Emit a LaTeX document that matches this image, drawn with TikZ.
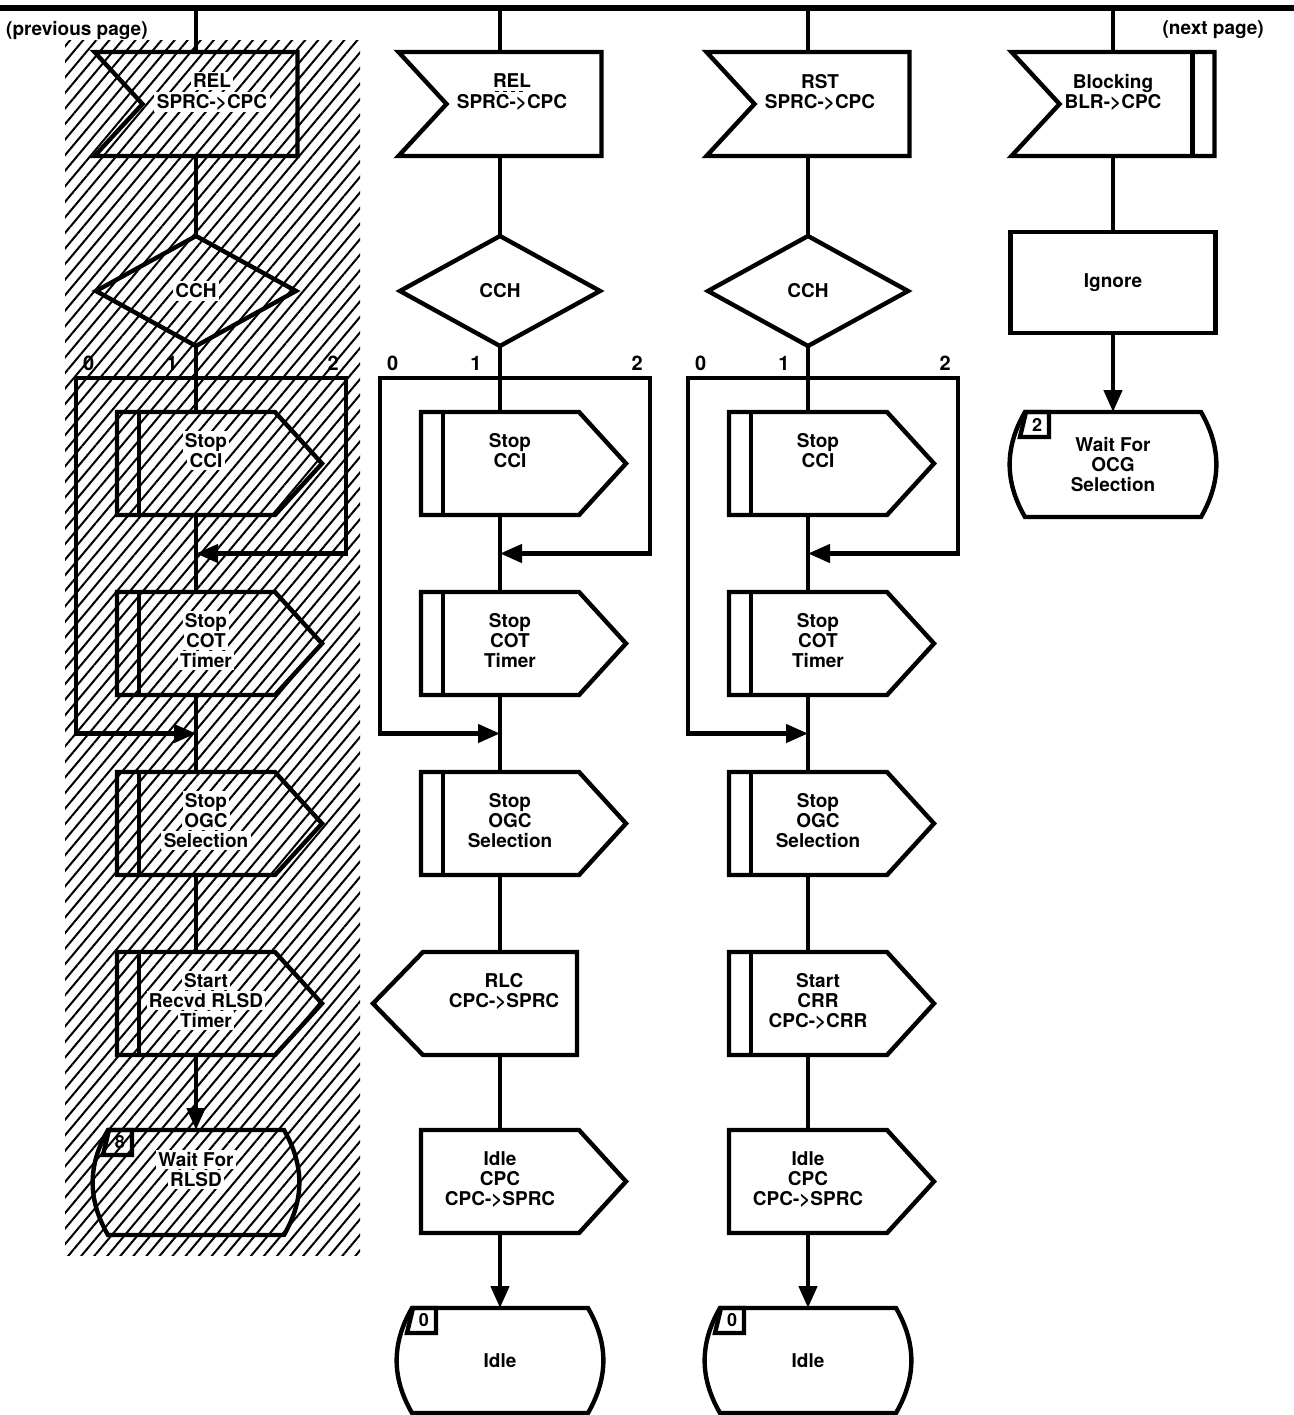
\documentclass[tikz,border=0pt]{standalone}
\usepackage{fontspec}
\setmainfont{TeX Gyre Heros}
\usepackage{tikz}
\usetikzlibrary{arrows.meta}
\pgfdeclarelayer{bg}
\pgfsetlayers{bg,main}
\usetikzlibrary{calc,shapes.geometric,positioning,patterns.meta}
% dashed underline for a signal name
\newcommand{\dashunder}[1]{\setbox0=\hbox{#1}\copy0\llap{\smash{\raisebox{-2.2pt}{\hbox to\wd0{\leaders\hbox to 4pt{\hss\vrule width 2.2pt height 0.8pt\hss}\hfill}}}}}
% text block shifted right by #1
\newcommand{\tx}[2]{\hspace*{#1}\begin{tabular}{@{}c@{}}#2\end{tabular}\hspace*{-#1}}
% white knock-out behind a word on the hatched page
\newcommand{\hl}[1]{{\fboxsep=1.2pt\rlap{\kern-1.2pt\smash{\colorbox{white}{\phantom{#1}}}}}#1}

\begin{document}
\begin{tikzpicture}
    [x=0.5pt, y=-0.5pt, line width=2.2pt,
    font=\bfseries\fontsize{9.5}{10}\selectfont,
    arr/.style={-{Triangle[length=11pt,width=9pt]}},
    sym/.style={rectangle, align=center, inner sep=1pt, outer sep=0pt},
    inbox/.style={sym, minimum width=101.5pt, minimum height=52pt,
      append after command={\pgfextra{\draw (\tikzlastnode.north west) -- (\tikzlastnode.north east) -- (\tikzlastnode.south east) -- (\tikzlastnode.south west) -- ([xshift=24pt]\tikzlastnode.west) -- cycle;}}},
    inprio/.style={inbox,
      append after command={\pgfextra{\draw ([xshift=-11pt]\tikzlastnode.north east) -- ([xshift=-11pt]\tikzlastnode.south east);}}},
    outbox/.style={sym, minimum width=79pt, minimum height=51.5pt,
      append after command={\pgfextra{\draw (\tikzlastnode.north west) -- (\tikzlastnode.north east) -- ([xshift=23.5pt]\tikzlastnode.east) -- (\tikzlastnode.south east) -- (\tikzlastnode.south west) -- cycle;}}},
    outleft/.style={sym, minimum width=77pt, minimum height=51.5pt,
      append after command={\pgfextra{\draw (\tikzlastnode.north east) -- (\tikzlastnode.north west) -- ([xshift=-25pt]\tikzlastnode.west) -- (\tikzlastnode.south west) -- (\tikzlastnode.south east) -- cycle;}}},
    taskbox/.style={outbox,
      append after command={\pgfextra{\draw ([xshift=11pt]\tikzlastnode.north west) -- ([xshift=11pt]\tikzlastnode.south west);}}},
    statebox/.style={sym, minimum width=88pt, minimum height=52.5pt,
      append after command={\pgfextra{\draw (\tikzlastnode.north east) to[bend left=30] (\tikzlastnode.south east) -- (\tikzlastnode.south west) to[bend left=30] (\tikzlastnode.north west) -- cycle;}}},
    tabbox/.style={sym, minimum width=12pt, minimum height=12.5pt, anchor=north west, line width=1.8pt,
      font=\bfseries\fontsize{9}{9}\selectfont,
      append after command={\pgfextra{\draw ([xshift=0.5pt]\tikzlastnode.north west) -- (\tikzlastnode.north east) -- (\tikzlastnode.south east) -- ([xshift=-2.5pt]\tikzlastnode.south west) -- cycle;}}},
    decision/.style={diamond, draw, minimum width=100pt, minimum height=55pt, inner sep=0pt, outer sep=0pt},
    process/.style={sym, draw, minimum width=102.5pt, minimum height=50.5pt},
    numlbl/.style={inner sep=2.5pt, font=\bfseries\fontsize{10}{10}\selectfont},
    pagelbl/.style={inner sep=0pt}]
    \useasboundingbox (0,0) rectangle (1294,1415);

    % page connector line
    \coordinate (tl) at (0,8);
    \coordinate (tr) at (1294,8);
    \draw[line width=3pt] (tl) -- (tr);
    \node (prev) [pagelbl, anchor=west] at (4,30) {(previous page)};
    \node (next) [pagelbl, anchor=east] at (1266,30) {(next page)};

    % column 1 (hatched)
    \node (in1) [inbox] at (196,104) {\tx{8pt}{\hl{REL}\\\hl{SPRC->CPC}\\~}};
    \node (cch1) [decision, below=40pt of in1] {\hl{CCH}};
    \node (cci1) [taskbox, below=33pt of cch1] {\tx{5pt}{\hl{Stop}\\\hl{CCI}\\~}};
    \node (cot1) [taskbox, below=38.5pt of cci1] {\tx{5pt}{\hl{Stop}\\\hl{COT}\\\hl{Timer}}};
    \node (ogc1) [taskbox, below=38.5pt of cot1] {\tx{5pt}{\hl{Stop}\\\hl{OGC}\\\hl{Selection}}};
    \node (rls1) [taskbox, below=38.5pt of ogc1] {\tx{5pt}{\hl{Start}\\\hl{Recvd RLSD}\\\hl{Timer}}};
    \node (st1) [statebox, below=37.5pt of rls1] {\tx{0pt}{\hl{Wait For}\\\hl{RLSD}\\~}};
    \node (tab1) [tabbox] at (st1.north west) {8};

    \coordinate (cch1-1) at ([yshift=-16pt]cch1.south);
    \coordinate (cch1-0) at ([xshift=-60pt]cch1-1);
    \coordinate (cch1-2) at ([xshift=75pt]cch1-1);
    \node (n10) [numlbl, anchor=south west] at (cch1-0) {0};
    \node (n11) [numlbl, anchor=south] at ([xshift=-12pt]cch1-1) {1};
    \node (n12) [numlbl, anchor=south east] at (cch1-2) {2};

    \draw (in1 |- tl) -- (in1);
    \draw (in1) -- (cch1);
    \draw (cch1) -- (cci1);
    \draw[arr] (cch1-1) -- (cch1-2) |- ($(cci1.south)!.5!(cot1.north)$);
    \draw[arr] (cch1-1) -- (cch1-0) |- ($(cot1.south)!.5!(ogc1.north)$);
    \draw (cci1) -- (cot1);
    \draw (cot1) -- (ogc1);
    \draw (ogc1) -- (rls1);
    \draw[arr] (rls1) -- (st1);

    % column 2
    \node (in2) [inbox] at (500,104) {\tx{6pt}{\dashunder{REL}\\SPRC->CPC\\~}};
    \node (cch2) [decision, below=40pt of in2] {CCH};
    \node (cci2) [taskbox, below=33pt of cch2] {\tx{5pt}{Stop\\CCI\\~}};
    \node (cot2) [taskbox, below=38.5pt of cci2] {\tx{5pt}{Stop\\COT\\Timer}};
    \node (ogc2) [taskbox, below=38.5pt of cot2] {\tx{5pt}{Stop\\OGC\\Selection}};
    \node (rlc2) [outleft, below=38.5pt of ogc2] {\tx{2pt}{RLC\\CPC->SPRC\\~}};
    \node (idl2) [outbox, below=37.5pt of rlc2] {\tx{0pt}{Idle\\CPC\\CPC->SPRC}};
    \node (st2) [statebox, below=37.5pt of idl2] {Idle};
    \node (tab2) [tabbox] at (st2.north west) {0};

    \coordinate (cch2-1) at ([yshift=-16pt]cch2.south);
    \coordinate (cch2-0) at ([xshift=-60pt]cch2-1);
    \coordinate (cch2-2) at ([xshift=75pt]cch2-1);
    \node (n20) [numlbl, anchor=south west] at (cch2-0) {0};
    \node (n21) [numlbl, anchor=south] at ([xshift=-12pt]cch2-1) {1};
    \node (n22) [numlbl, anchor=south east] at (cch2-2) {2};

    \draw (in2 |- tl) -- (in2);
    \draw (in2) -- (cch2);
    \draw (cch2) -- (cci2);
    \draw[arr] (cch2-1) -- (cch2-2) |- ($(cci2.south)!.5!(cot2.north)$);
    \draw[arr] (cch2-1) -- (cch2-0) |- ($(cot2.south)!.5!(ogc2.north)$);
    \draw (cci2) -- (cot2);
    \draw (cot2) -- (ogc2);
    \draw (ogc2) -- (rlc2);
    \draw (rlc2) -- (idl2);
    \draw[arr] (idl2) -- (st2);

    % column 3
    \node (in3) [inbox] at (808,104) {\tx{6pt}{RST\\SPRC->CPC\\~}};
    \node (cch3) [decision, below=40pt of in3] {CCH};
    \node (cci3) [taskbox, below=33pt of cch3] {\tx{5pt}{Stop\\CCI\\~}};
    \node (cot3) [taskbox, below=38.5pt of cci3] {\tx{5pt}{Stop\\COT\\Timer}};
    \node (ogc3) [taskbox, below=38.5pt of cot3] {\tx{5pt}{Stop\\OGC\\Selection}};
    \node (crr3) [taskbox, below=38.5pt of ogc3] {\tx{5pt}{Start\\CRR\\CPC->CRR}};
    \node (idl3) [outbox, below=37.5pt of crr3] {\tx{0pt}{Idle\\CPC\\CPC->SPRC}};
    \node (st3) [statebox, below=37.5pt of idl3] {Idle};
    \node (tab3) [tabbox] at (st3.north west) {0};

    \coordinate (cch3-1) at ([yshift=-16pt]cch3.south);
    \coordinate (cch3-0) at ([xshift=-60pt]cch3-1);
    \coordinate (cch3-2) at ([xshift=75pt]cch3-1);
    \node (n30) [numlbl, anchor=south west] at (cch3-0) {0};
    \node (n31) [numlbl, anchor=south] at ([xshift=-12pt]cch3-1) {1};
    \node (n32) [numlbl, anchor=south east] at (cch3-2) {2};

    \draw (in3 |- tl) -- (in3);
    \draw (in3) -- (cch3);
    \draw (cch3) -- (cci3);
    \draw[arr] (cch3-1) -- (cch3-2) |- ($(cci3.south)!.5!(cot3.north)$);
    \draw[arr] (cch3-1) -- (cch3-0) |- ($(cot3.south)!.5!(ogc3.north)$);
    \draw (cci3) -- (cot3);
    \draw (cot3) -- (ogc3);
    \draw (ogc3) -- (crr3);
    \draw (crr3) -- (idl3);
    \draw[arr] (idl3) -- (st3);

    % column 4
    \node (in4) [inprio] at (1113,104) {\tx{0pt}{Blocking\\BLR->CPC\\~}};
    \node (ign4) [process, below=38pt of in4] {Ignore};
    \node (st4) [statebox, below=39.5pt of ign4] {Wait For\\OCG\\Selection};
    \node (tab4) [tabbox] at (st4.north west) {2};

    \draw (in4 |- tl) -- (in4);
    \draw (in4) -- (ign4);
    \draw[arr] (ign4) -- (st4);

    \begin{pgfonlayer}{bg}
      \node (hatch) at (212.5,647.5) [rectangle, minimum width=147.5pt, minimum height=607.5pt, pattern={Lines[angle=50,distance=5pt,line width=1pt]}] {};
    \end{pgfonlayer}

\end{tikzpicture}
\end{document}
